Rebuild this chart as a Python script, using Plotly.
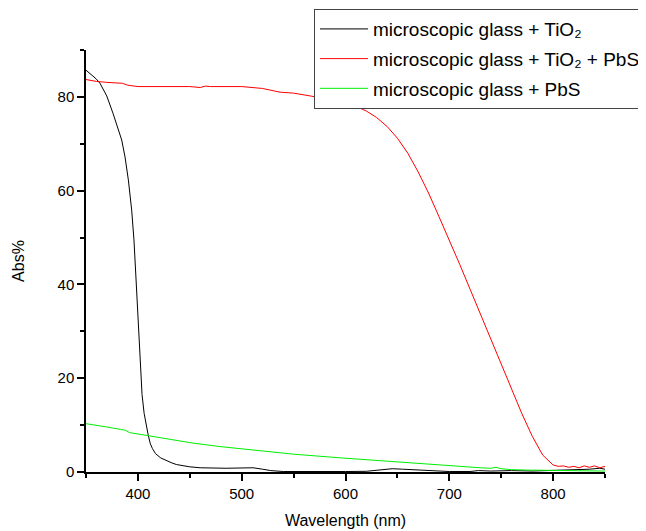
import plotly.graph_objects as go

# ---- data ----
tio2_x = [350, 355, 360, 363.5, 370, 376, 380, 384.4, 387.6, 390.8, 394, 396.2, 398, 400, 402, 404, 406, 408, 410, 412, 414, 417, 422, 432, 437, 450, 460, 485, 498, 505, 511, 520, 528, 540, 560, 580, 600, 620, 635, 645, 655, 667, 680, 700, 720, 728, 740, 760, 780, 800, 820, 835, 845, 850]
tio2_y = [85.7, 84.8, 83.8, 82.9, 80.2, 76.5, 74.0, 70.8, 67.2, 62.3, 55.9, 49.5, 42.0, 33.0, 24.0, 16.5, 12.5, 10.0, 7.8, 6.0, 5.0, 3.9, 3.0, 2.0, 1.6, 1.1, 0.9, 0.8, 0.9, 1.0, 0.9, 0.6, 0.3, 0.1, 0.05, 0.1, 0.1, 0.15, 0.5, 0.7, 0.6, 0.5, 0.3, 0.1, 0.1, 0.3, 0.2, 0.3, 0.2, 0.3, 0.4, 0.6, 0.8, 0.6]

tio2_pbs_x = [350, 360, 370, 380, 385, 390, 395, 400, 450, 460, 465, 470, 500, 520, 537, 550, 566, 580, 595, 610, 620, 630, 640, 650, 660, 670, 680, 690, 700, 710, 720, 730, 740, 750, 760, 770, 780, 790, 800, 805, 810, 815, 820, 825, 830, 835, 840, 845, 850]
tio2_pbs_y = [83.7, 83.3, 83.1, 83.0, 82.9, 82.5, 82.3, 82.2, 82.2, 82.0, 82.3, 82.2, 82.2, 81.8, 81.0, 80.8, 80.2, 79.7, 79.1, 78.0, 77.0, 75.6, 73.7, 71.2, 68.0, 64.0, 59.5, 54.5, 49.5, 44.3, 39.0, 33.6, 28.2, 22.8, 17.5, 12.4, 7.6, 3.6, 1.5, 1.2, 1.3, 1.0, 1.2, 0.9, 1.3, 1.0, 1.3, 0.9, 1.2]

pbs_x = [350, 360, 370, 383, 388, 392, 400, 420, 452, 480, 506, 550, 596, 640, 687, 710, 730, 740, 745, 750, 760, 777, 800, 825, 850]
pbs_y = [10.3, 10.0, 9.6, 9.1, 8.9, 8.4, 8.1, 7.3, 6.2, 5.4, 4.8, 3.8, 3.0, 2.3, 1.5, 1.1, 0.9, 0.8, 1.0, 0.7, 0.5, 0.4, 0.3, 0.25, 0.2]

names = ["microscopic glass + TiO\u2082",
         "microscopic glass + TiO\u2082 + PbS",
         "microscopic glass + PbS"]
colors = ["#000000", "#ff0000", "#00ee00"]

x_range = [350, 850]
y_range = [0, 90]

FONT = "Arial, 'Liberation Sans', sans-serif"

fig = go.Figure()
for i, (xs, ys) in enumerate([(tio2_x, tio2_y), (tio2_pbs_x, tio2_pbs_y), (pbs_x, pbs_y)]):
    fig.add_trace(go.Scatter(x=xs, y=ys, mode="lines", name=names[i],
                             legendgroup=f"g{i}",
                             line=dict(color=colors[i], width=1)))

axis_common = dict(showgrid=False, zeroline=False, showline=True, linecolor="black",
                   linewidth=1.5, ticks="outside", ticklen=7, tickwidth=1.5,
                   tickcolor="black", tickfont=dict(size=15, color="black", family=FONT),
                   mirror=False, automargin=False)

fig.update_xaxes(range=x_range, dtick=100, tick0=400,
                 minor=dict(dtick=50, ticks="outside", ticklen=4, tickwidth=1.5, tickcolor="black"),
                 title=dict(text="Wavelength (nm)", font=dict(size=16, color="black", family=FONT), standoff=14),
                 **axis_common)
fig.update_yaxes(range=y_range, dtick=20, tick0=0,
                 minor=dict(dtick=10, ticks="outside", ticklen=4, tickwidth=1.5, tickcolor="black"),
                 title=dict(text="Abs%", font=dict(size=16, color="black", family=FONT), standoff=29),
                 **axis_common)

# page body has an 8px margin, so the figure is 8px smaller than the window
fig.update_layout(
    width=638, height=523,
    margin=dict(l=78, r=41, t=42, b=59, autoexpand=False),
    paper_bgcolor="white", plot_bgcolor="white",
    font=dict(family=FONT, color="black"),
    legend=dict(x=0.4393, y=1.097, xanchor="left", yanchor="top",
                bgcolor="white", bordercolor="#444444", borderwidth=1,
                font=dict(size=19, color="black", family=FONT),
                tracegroupgap=2, itemwidth=48),
    showlegend=True,
)

fig.write_html("out.html")
